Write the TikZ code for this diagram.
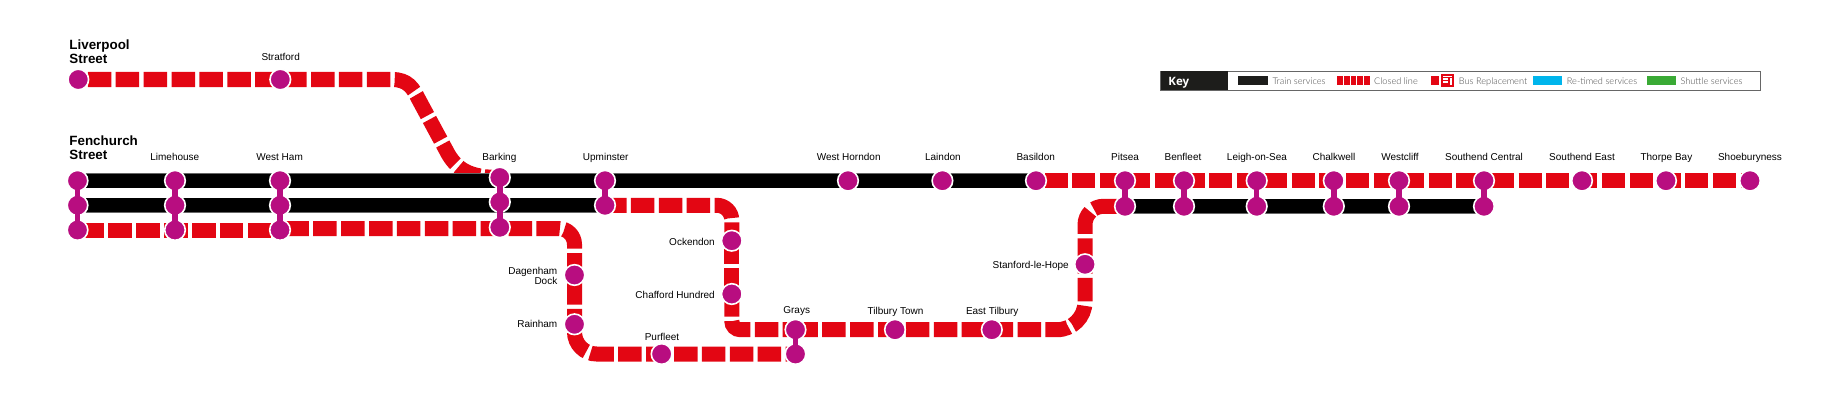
\documentclass[tikz,border=0pt]{standalone}
\usepackage{fontspec}
\setmainfont{Liberation Sans}
\newfontfamily\keyfont{Lato Light}
\newfontfamily\keyheadfont{Open Sans}[Scale=1]
\pgfdeclarelayer{lines}
\pgfdeclarelayer{links}
\pgfsetlayers{lines,main,links}
\definecolor{rail}{HTML}{E30613}
\definecolor{stn}{HTML}{B80D80}
\definecolor{keytxt}{HTML}{4A4A4A}
\definecolor{keyblack}{HTML}{1D1D1B}
\definecolor{retimed}{HTML}{00B5EC}
\definecolor{shuttle}{HTML}{3AAA35}
\tikzset{
  x=1pt,y=-1pt,
  station/.style={circle,fill=stn,draw=white,line width=1.6pt,minimum size=20.6pt,inner sep=0pt},
  stnlink/.style={draw=stn,line width=5.5pt},
  trainline/.style={line width=15pt,draw=black!60,postaction={draw=black,line width=14pt}},
  closedline/.style={line width=15pt,draw=rail,dash pattern=on 23.5pt off 4.4pt},
  stnlabel/.style={font=\fontsize{10pt}{10pt}\selectfont,anchor=base,inner sep=0pt,text=black},
  stnlabelr/.style={stnlabel,anchor=base east,align=right},
  termlabel/.style={font=\fontsize{13.4pt}{14pt}\selectfont\bfseries,anchor=base west,inner sep=0pt,align=left},
  keytext/.style={font=\keyfont\fontsize{9.2pt}{11pt}\selectfont,text=keytxt,anchor=base west,inner sep=0pt},
}
\begin{document}
\begin{tikzpicture}
\useasboundingbox (0,0) rectangle (1823,404);
% stations
\foreach \n/\x/\y in {
  liv/78.3/79.5, stra/280.3/79.5,
  fena/77.5/180.7, fenb/77.5/205.3, fenc/77.5/230,
  lima/175/180.7, limb/175/205.3, limc/175/230,
  hama/280/180.7, hamb/280/205.3, hamc/280/230,
  baka/499.8/177.5, bakb/499.8/202, bakc/499.8/227.3,
  upma/605/180.7, upmb/605/205.3,
  horn/848/180.7, lain/942.4/180.7, basi/1036/180.7,
  pita/1125/180.7, pitb/1125/206.3,
  bena/1184/180.7, benb/1184/206.3,
  leia/1256.7/180.7, leib/1256.7/206.3,
  chaa/1333.8/180.7, chab/1333.8/206.3,
  wesa/1399/180.7, wesb/1399/206.3,
  soua/1484/180.7, soub/1484/206.3,
  soue/1582/180.7, thor/1666/180.7, shoe/1750/180.7,
  ock/731.8/240.7, chf/731.8/294,
  dag/574.5/275, rai/574.5/324.3, pur/661.6/354,
  graa/795.5/329.7, grab/795.5/354,
  tilt/895/329.7, tile/991.8/329.7, stan/1085/264.3}
  {\node[station] (\n) at (\x,\y) {};}
\coordinate (rowb) at (0,228.5);
% connectors
\begin{pgfonlayer}{lines}
  % red first so that black runs over them
  \draw[closedline,dash phase=18.4pt] (liv.center) -- (stra.center) -- (392,79.5)
     .. controls (408,79.5) and (413,88) .. (419,100) -- (446,150)
     .. controls (456,170) and (470,177.5) .. (baka.center);
  \draw[closedline,dash phase=25pt] (fenc.center) -- (limc.center) -- (hamc.center);
  \draw[closedline,dash phase=22.6pt] (hamb.center |- rowb) -- (bakc.center |- rowb)
     [rounded corners=16pt] -| (dag.center) -- (rai.center);
  \draw[closedline,dash phase=19.8pt] (rai.center) [rounded corners=22pt] |- (pur.center) -- (grab.center);
  \draw[closedline,dash phase=2pt] (upmb.center) [rounded corners=15pt] -| (ock.center);
  \draw[closedline,dash pattern=on 23pt off 4.6pt] (ock.center) -- (chf.center);
  \draw[closedline,dash phase=0.8pt] (chf.center) [rounded corners=8.5pt] |- (graa.center);
  \draw[closedline,dash phase=1.2pt] (graa.center) -- (tilt.center) -- (tile.center)
     [rounded corners=28pt] -| (stan.center);
  \draw[closedline,dash phase=25.4pt] (stan.center) [rounded corners=18.5pt] |- (pitb.center);
  \draw[closedline,dash pattern=on 23pt off 4.4pt,dash phase=18.4pt] (basi.center) -- (pita.center) -- (bena.center) -- (leia.center) -- (chaa.center) -- (wesa.center) -- (soua.center);
  \draw[closedline,dash pattern=on 23pt off 4.8pt,dash phase=21pt] (soua.center) -- (soue.center) -- (thor.center) -- (shoe.center);
  % train services
  \draw[trainline] (fena.center) -- (basi.center);
  \draw[trainline] (fenb.center) -- (upmb.center);
  \draw[trainline] (pitb.center) -- (soub.center);
\end{pgfonlayer}
\begin{pgfonlayer}{links}
  \foreach \a/\b in {fena/fenb,fenb/fenc,lima/limb,limb/limc,hama/hamb,hamb/hamc,baka/bakb,bakb/bakc,upma/upmb,graa/grab,pita/pitb,bena/benb,leia/leib,chaa/chab,wesa/wesb,soua/soub}
    \draw[stnlink] (\a.center) -- (\b.center);
\end{pgfonlayer}
% labels
\node[termlabel] (tliv) at (69.2,63.8) {Liverpool\\Street};
\node[termlabel] (tfen) at (69.2,159.8) {Fenchurch\\Street};
\foreach \n/\t/\x/\y in {
  lstra/Stratford/280.7/61, llim/Limehouse/174.8/160.5, lham/West Ham/279.6/160.5,
  lbak/Barking/499.4/160.5, lupm/Upminster/605.7/160.5, lhor/West Horndon/848.7/160.5,
  llai/Laindon/942.9/160.5, lbas/Basildon/1035.7/160.5, lpit/Pitsea/1125/160.5,
  lben/Benfleet/1183/160.5, llei/Leigh-on-Sea/1257/160.5, lcha/Chalkwell/1334/160.5,
  lwes/Westcliff/1400/160.5, lsou/Southend Central/1484/160.5, lsoe/Southend East/1582/160.5,
  ltho/Thorpe Bay/1666.4/160.5, lsho/Shoeburyness/1750/160.5,
  lgra/Grays/796.7/313, ltit/Tilbury Town/895.5/314, ltie/East Tilbury/992.2/314, lpur/Purfleet/662/340.5}
  {\node[stnlabel] (\n) at (\x,\y) {\t};}
\foreach \n/\t/\x/\y in {
  lock/Ockendon/715/245, lchf/Chafford Hundred/715/298, lrai/Rainham/557.5/327.8, lsta/Stanford-le-Hope/1069/268.8}
  {\node[stnlabelr] (\n) at (\x,\y) {\t};}
\node[stnlabelr,font=\fontsize{10pt}{10pt}\selectfont] (ldag) at (557.5,284) {Dagenham\\Dock};
% key
\node[draw=black!60,line width=0.8pt,fill=white,minimum width=599.6pt,minimum height=19pt,inner sep=0pt,anchor=north west] (keybox) at (1160.4,70.7) {};
\node[fill=keyblack,minimum width=67.6pt,minimum height=19.6pt,inner sep=0pt,anchor=north west] (keyhead) at (1160.4,70.5) {};
\node[font=\keyheadfont\bfseries\fontsize{11.5pt}{12pt}\selectfont,text=white,inner sep=0pt,anchor=base west] (keyt) at (1168.2,85) {Key};
\fill[keyblack] (1238.4,76) rectangle (1268,85);
\node[keytext] (k1) at (1272.3,84.4) {Train services};
\foreach \x in {1337.3,1344,1350.6,1357.2,1363.8} \fill[rail] (\x,76) rectangle +(5.8,9);
\node[keytext] (k2) at (1374,84.4) {Closed line};
\fill[rail] (1430.5,76) rectangle (1439,85);
\fill[rail] (1441.4,74.3) rectangle (1453.5,86.7);
\fill[white] (1443,76) rectangle (1451.8,77.2);
\fill[white] (1443,78.4) rectangle (1447.8,79.8);
\fill[white] (1443,81.2) rectangle (1448,83);
\fill[white] (1449.6,78.4) rectangle (1451.8,84.8);
\node[keytext] (k3) at (1458.7,84.4) {Bus Replacement};
\fill[retimed] (1533.3,76) rectangle (1562,85);
\node[keytext] (k4) at (1566.7,84.4) {Re-timed services};
\fill[shuttle] (1647,76) rectangle (1675.6,85);
\node[keytext] (k5) at (1680.3,84.4) {Shuttle services};
\end{tikzpicture}
\end{document}
